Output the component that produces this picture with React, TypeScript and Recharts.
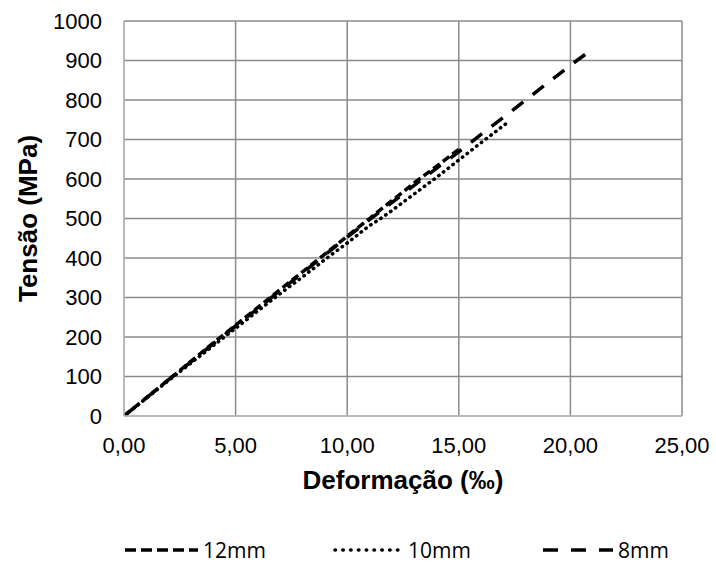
import React from "react";
import {
  LineChart,
  Line,
  XAxis,
  YAxis,
  CartesianGrid,
  Legend,
  Label,
} from "recharts";

// strain (‰) vs stress (MPa)
const strain12 = [0, 2, 4, 5, 6, 7, 8, 9, 10, 11, 12, 13, 14, 15, 15.1];
const stress12 = [0, 92, 185, 230, 275, 320, 365, 410, 455, 500, 545, 590, 632, 675, 680];

const strain10 = [0, 2, 4, 5, 6, 7, 8, 9, 10, 11, 11.5, 12, 13, 14, 15, 16, 17, 17.2];
const stress10 = [0, 90, 178, 222, 266, 310, 352, 396, 438, 482, 500, 520, 562, 604, 648, 692, 735, 744];

const strain8 = [0, 2, 4, 5, 6, 7, 8, 9, 10, 11, 12, 13, 14, 15, 16, 17, 18, 19, 20, 20.9];
const stress8 = [0, 92, 183, 228, 272, 318, 362, 408, 453, 497, 540, 584, 627, 669, 713, 756, 800, 844, 888, 925];

const xTicks = [0, 5, 10, 15, 20, 25];
const yTicks = [0, 100, 200, 300, 400, 500, 600, 700, 800, 900, 1000];

const toPoints = (xs: number[], ys: number[]) =>
  xs.map((x, i) => ({ x, y: ys[i] }));

const series = [
  { name: "12mm", data: toPoints(strain12, stress12), dash: "8 4", cap: "butt" },
  { name: "10mm", data: toPoints(strain10, stress10), dash: "0.5 5.5", cap: "round" },
  { name: "8mm", data: toPoints(strain8, stress8), dash: "14 12", cap: "butt" },
];

const legendSlots = [
  { left: 125, width: 73, dash: "11 5", cap: "butt" },
  { left: 333, width: 70, dash: "0.5 7.3", cap: "round" },
  { left: 543, width: 70, dash: "15 13", cap: "butt" },
];

const tickFont = { fontFamily: "Liberation Sans", fontSize: 22, fill: "#000" };

function LegendBox() {
  return (
    <div style={{ position: "relative", height: 60, width: 716 }}>
      {series.map((s, i) => {
        const slot = legendSlots[i];
        return (
          <div
            key={s.name}
            style={{
              position: "absolute",
              left: slot.left,
              top: 34,
              height: 26,
              display: "flex",
              alignItems: "center",
            }}
          >
            <svg width={slot.width} height={8}>
              <line
                x1={slot.cap === "round" ? 2 : 0}
                y1={4}
                x2={slot.width}
                y2={4}
                stroke="#000"
                strokeWidth={3.5}
                strokeDasharray={slot.dash}
                strokeLinecap={slot.cap as any}
              />
            </svg>
            <span
              style={{
                fontFamily: "Open Sans",
                fontSize: 21,
                color: "#000",
                marginLeft: 5,
                lineHeight: "26px",
              }}
            >
              {s.name}
            </span>
          </div>
        );
      })}
    </div>
  );
}

export default function App() {
  return (
    <div style={{ position: "absolute", left: 0, top: 0, background: "#fff" }}>
      <LineChart
        width={716}
        height={563}
        margin={{ top: 21, right: 34, left: 0, bottom: 0 }}
      >
        <CartesianGrid stroke="#8a8a8a" strokeWidth={1.5} />
        <XAxis
          type="number"
          dataKey="x"
          domain={[0, 25]}
          ticks={xTicks}
          tickFormatter={(v: number) => v.toFixed(2).replace(".", ",")}
          tick={tickFont}
          tickLine={false}
          tickSize={0}
          tickMargin={21}
          height={87}
          stroke="#bfbfbf"
          strokeWidth={1.5}
          allowDataOverflow
        >
          <Label
            content={({ viewBox }: any) => (
              <text
                x={viewBox.x + viewBox.width / 2}
                y={viewBox.y + 64}
                textAnchor="middle"
                dominantBaseline="central"
                fontFamily="Liberation Sans"
                fontWeight="bold"
                fontSize={26}
                fill="#000"
              >
                Deformação (‰)
              </text>
            )}
          />
        </XAxis>
        <YAxis
          type="number"
          domain={[0, 1000]}
          ticks={yTicks}
          tick={tickFont}
          tickLine={false}
          tickSize={0}
          tickMargin={22}
          width={124}
          stroke="#bfbfbf"
          strokeWidth={1.5}
          allowDataOverflow
        >
          <Label
            content={({ viewBox }: any) => {
              const cx = viewBox.x + 28;
              const cy = viewBox.y + viewBox.height / 2;
              return (
                <text
                  x={cx}
                  y={cy}
                  transform={`rotate(-90 ${cx} ${cy})`}
                  textAnchor="middle"
                  dominantBaseline="central"
                  fontFamily="Liberation Sans"
                  fontWeight="bold"
                  fontSize={26}
                  fill="#000"
                >
                  Tensão (MPa)
                </text>
              );
            }}
          />
        </YAxis>
        <Legend verticalAlign="bottom" height={60} content={() => <LegendBox />} />
        {series.map((s) => (
          <Line
            key={s.name}
            name={s.name}
            data={s.data}
            dataKey="y"
            type="linear"
            stroke="#000"
            strokeWidth={3.5}
            strokeDasharray={s.dash}
            strokeLinecap={s.cap as any}
            dot={false}
            activeDot={false}
            isAnimationActive={false}
          />
        ))}
      </LineChart>
    </div>
  );
}
